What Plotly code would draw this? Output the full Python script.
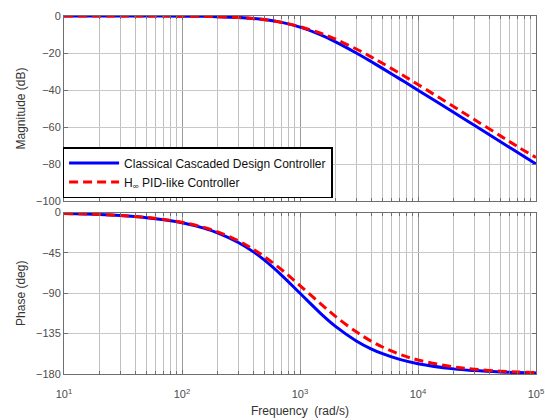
import plotly.graph_objects as go
from plotly.subplots import make_subplots

# Frequency samples (rad/s)
freq = [10, 20, 30, 50, 70, 100, 150, 200, 300, 400, 500, 700, 1000, 1500, 2000,
        3000, 4000, 5000, 7000, 1e4, 2e4, 3e4, 5e4, 7e4, 1e5]

# Classical Cascaded Design Controller
mag_classical = [0, 0, -0.01, -0.02, -0.04, -0.09, -0.19, -0.34, -0.75, -1.29, -1.94, -3.46,
                 -6.02, -10.24, -13.98, -20.0, -24.61, -28.30, -33.98, -40.09, -52.06,
                 -59.09, -67.96, -73.81, -80.0]
phase_classical = [-1.15, -2.29, -3.44, -5.72, -8.01, -11.42, -17.06, -22.62, -33.40, -43.60,
                   -53.13, -69.98, -90.0, -112.62, -126.87, -143.13, -151.93, -157.38, -163.74,
                   -168.58, -174.28, -176.18, -177.71, -178.36, -178.85]

# H-infinity PID-like Controller
mag_hinf = [0, 0, -0.01, -0.02, -0.05, -0.10, -0.22, -0.38, -0.83, -1.39, -2.04, -3.49,
            -5.76, -9.34, -12.52, -17.83, -22.07, -25.56, -31.04, -37.03, -48.93, -55.94,
            -64.80, -70.64, -76.5]
phase_hinf = [-1.10, -2.20, -3.29, -5.49, -7.67, -10.93, -16.28, -21.50, -31.51, -40.77,
              -49.24, -63.82, -81.5, -101.8, -115.8, -133.0, -143.3, -149.9, -158.0,
              -164.4, -172.1, -174.7, -176.8, -177.7, -178.4]

names = ["Classical Cascaded Design Controller", "H<sub>∞</sub> PID-like Controller"]

xtick_vals = [10, 100, 1000, 10000, 100000]
xtick_text = ["10<sup>1</sup>", "10<sup>2</sup>", "10<sup>3</sup>", "10<sup>4</sup>", "10<sup>5</sup>"]
minor_vals = [m * d for d in [10, 100, 1000, 10000] for m in range(2, 10)]

mag_ticks = [0, -20, -40, -60, -80, -100]
phase_ticks = [0, -45, -90, -135, -180]

fig = make_subplots(rows=2, cols=1, shared_xaxes=False, vertical_spacing=0.032)

blue = "#0000ff"
red = "#ff0000"

fig.add_trace(go.Scatter(x=freq, y=mag_classical, mode="lines", name=names[0],
                         line=dict(color=blue, width=3, shape="spline"), legendgroup="a"),
              row=1, col=1)
fig.add_trace(go.Scatter(x=freq, y=mag_hinf, mode="lines", name=names[1],
                         line=dict(color=red, width=3, dash="9px,5px", shape="spline"),
                         legendgroup="b"), row=1, col=1)
fig.add_trace(go.Scatter(x=freq, y=phase_classical, mode="lines", name=names[0],
                         line=dict(color=blue, width=3, shape="spline"), showlegend=False),
              row=2, col=1)
fig.add_trace(go.Scatter(x=freq, y=phase_hinf, mode="lines", name=names[1],
                         line=dict(color=red, width=3, dash="9px,5px", shape="spline"),
                         showlegend=False), row=2, col=1)

font = "Liberation Sans, Arial, sans-serif"
axis_col = "#6e6e6e"
tick_font = dict(family=font, size=11, color="#4d4d4d")

common_x = dict(type="log", range=[1, 5], tickvals=xtick_vals, ticktext=xtick_text,
                showline=True, linecolor=axis_col, linewidth=1, mirror="ticks",
                ticks="inside", ticklen=4, tickcolor=axis_col,
                showgrid=True, gridcolor="#9a9a9a", gridwidth=1,
                minor=dict(tickmode="array", tickvals=minor_vals, showgrid=True,
                           gridcolor="#c0c0c0", ticks="inside", ticklen=3, tickcolor=axis_col),
                zeroline=False, tickfont=tick_font, ticklabeloverflow="allow",
                automargin=False)

fig.update_xaxes(common_x, showticklabels=False, row=1, col=1)
fig.update_xaxes(common_x, showticklabels=True, row=2, col=1, ticklabelstandoff=10,
                 title=dict(text="Frequency  (rad/s)", font=dict(family=font, size=12, color="#333333"),
                            standoff=7))

common_y = dict(showline=True, linecolor=axis_col, linewidth=1, mirror="ticks",
                ticks="inside", ticklen=4, tickcolor=axis_col,
                showgrid=True, gridcolor="#c8c8c8", gridwidth=1, zeroline=False,
                tickfont=tick_font, automargin=False)

fig.update_yaxes(common_y, range=[-100, 0], tickvals=mag_ticks, row=1, col=1,
                 title=dict(text="Magnitude (dB)", font=dict(family=font, size=12, color="#333333"),
                            standoff=7))
fig.update_yaxes(common_y, range=[-180, 0], tickvals=phase_ticks, row=2, col=1,
                 title=dict(text="Phase (deg)", font=dict(family=font, size=12, color="#333333"),
                            standoff=7))

fig.update_layout(
    width=545, height=420,
    margin=dict(l=64, r=9, t=16, b=46, autoexpand=False),
    paper_bgcolor="white", plot_bgcolor="white",
    font=dict(family=font, size=12, color="#333333"),
    yaxis=dict(domain=[0.4832, 1.0]),
    yaxis2=dict(domain=[0.0, 0.4511]),
    legend=dict(x=-0.003, y=0.634, xanchor="left", yanchor="top",
                bgcolor="white", bordercolor="black", borderwidth=1.5,
                font=dict(family=font, size=12, color="#111111"),
                itemwidth=50, tracegroupgap=0),
    showlegend=True,
)

fig.write_html("out.html")
